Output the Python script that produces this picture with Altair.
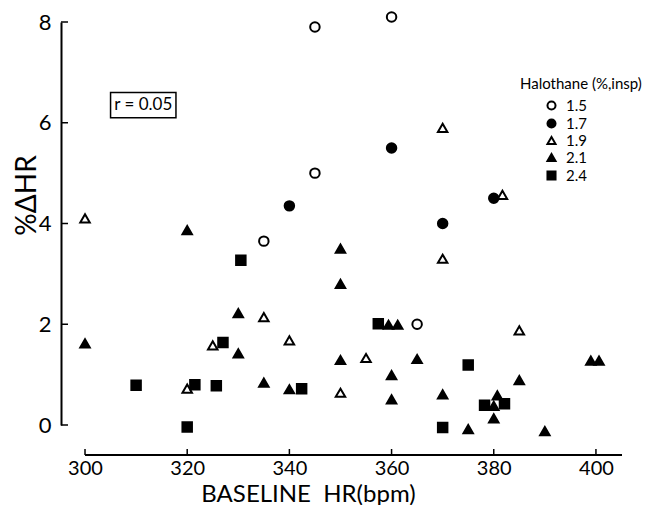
import altair as alt
import pandas as pd

# ---------------- data ----------------
groups = ["1.5", "1.7", "1.9", "2.1", "2.4"]

hr_15 = [345, 360, 345, 335, 365]
pct_15 = [7.9, 8.1, 5.0, 3.65, 2.0]

hr_17 = [340, 360, 370, 380]
pct_17 = [4.35, 5.5, 4.0, 4.5]

hr_19 = [300, 320, 325, 335, 340, 350, 355, 370, 370, 381.7, 385]
pct_19 = [4.1, 0.72, 1.58, 2.14, 1.68, 0.64, 1.33, 5.9, 3.3, 4.57, 1.88]

hr_21 = [300, 320, 330, 330, 335, 340, 350, 350, 350, 359.4, 361.2, 360, 360,
         365, 370, 375, 380, 380.7, 380, 385, 390, 399, 400.6]
pct_21 = [1.62, 3.87, 2.22, 1.42, 0.84, 0.71, 3.5, 2.8, 1.29, 1.99, 1.99, 0.99, 0.51,
          1.31, 0.61, -0.08, 0.38, 0.59, 0.13, 0.89, -0.12, 1.28, 1.28]

hr_24 = [310, 320, 321.5, 325.7, 327, 330.5, 342.4, 357.4, 370, 375, 378.2, 382.1]
pct_24 = [0.79, -0.04, 0.8, 0.78, 1.64, 3.27, 0.72, 2.01, -0.05, 1.19, 0.39, 0.42]

x_ticks = [300, 320, 340, 360, 380, 400]
y_ticks = [0, 2, 4, 6, 8]

r_label = "r = 0.05"
r_box_x = [305.0, 317.8]
r_box_y = [6.1, 6.6]

# ---------------- build table ----------------
rows = []
for g, xs, ys in zip(groups, [hr_15, hr_17, hr_19, hr_21, hr_24],
                     [pct_15, pct_17, pct_19, pct_21, pct_24]):
    for xv, yv in zip(xs, ys):
        rows.append({"hr": xv, "pct": yv, "dose": g})
df = pd.DataFrame(rows)

FONT = "Lato"

xscale = alt.Scale(domain=[295.3, 405.1], nice=False, zero=False)
yscale = alt.Scale(domain=[0, 8], nice=False, zero=False)

legend = alt.Legend(
    title="Halothane (%,insp)", orient="none", legendX=459, legendY=55,
    titleFont=FONT, titleFontSize=15, titleFontWeight="normal", titleColor="black",
    labelFont=FONT, labelFontSize=15, labelColor="black",
    symbolOffset=24, labelOffset=7, rowPadding=1, symbolSize=65,
    symbolStrokeWidth=2, titlePadding=6,
)

points = alt.Chart(df).mark_point(filled=True, strokeWidth=2,
                                  size=90, opacity=1).encode(
    x=alt.X("hr:Q", scale=xscale,
            axis=alt.Axis(title="BASELINE\u00a0 HR(bpm)", values=x_ticks, ticks=False,
                          domain=False, grid=False, offset=29, labelPadding=4,
                          labelFont=FONT, labelFontSize=20, labelColor="black",
                          titleFont=FONT, titleFontSize=24, titleFontWeight="normal",
                          titleColor="black", titleX=247, titlePadding=4)),
    y=alt.Y("pct:Q", scale=yscale,
            axis=alt.Axis(title="%\u0394HR", values=y_ticks, ticks=False, domain=True,
                          domainColor="black", domainWidth=2, grid=False,
                          labelPadding=10, labelFont=FONT, labelFontSize=22,
                          labelColor="black", titleFont=FONT, titleFontSize=28,
                          titleFontWeight="normal", titleColor="black",
                          titleX=-34, titleY=173, titleAlign="center",
                          titleBaseline="middle")),
    shape=alt.Shape("dose:N", scale=alt.Scale(domain=groups,
                    range=["circle", "circle", "triangle-up", "triangle-up", "square"]),
                    legend=legend),
    fill=alt.Fill("dose:N", scale=alt.Scale(domain=groups,
                  range=["white", "black", "white", "black", "black"]),
                  legend=legend),
    stroke=alt.Stroke("dose:N", scale=alt.Scale(domain=groups,
                      range=["black", "black", "black", "black", "black"]),
                      legend=legend),
)

xt = pd.DataFrame({"v": x_ticks})
yt = pd.DataFrame({"v": y_ticks})

x_axis_line = alt.Chart(pd.DataFrame({"a": [x_ticks[0]], "b": [405.1]})).mark_rule(
    color="black", strokeWidth=2).encode(
    x=alt.X("a:Q", scale=xscale), x2="b:Q", y=alt.value(433))

x_tick_marks = alt.Chart(xt).mark_rule(color="black", strokeWidth=1.5).encode(
    x=alt.X("v:Q", scale=xscale), y=alt.value(433), y2=alt.value(427))

y_tick_marks = alt.Chart(yt).mark_rule(color="black", strokeWidth=1.5).encode(
    y=alt.Y("v:Q", scale=yscale), x=alt.value(0), x2=alt.value(7))

box_df = pd.DataFrame({"x1": [r_box_x[0]], "x2": [r_box_x[1]],
                       "y1": [r_box_y[0]], "y2": [r_box_y[1]],
                       "xm": [(r_box_x[0] + r_box_x[1]) / 2],
                       "ym": [(r_box_y[0] + r_box_y[1]) / 2], "t": [r_label]})
box = alt.Chart(box_df).mark_rect(fillOpacity=0, stroke="black", strokeWidth=1.5).encode(
    x=alt.X("x1:Q", scale=xscale), x2="x2:Q", y=alt.Y("y1:Q", scale=yscale), y2="y2:Q")
box_text = alt.Chart(box_df).mark_text(font=FONT, fontSize=17, color="black",
                                       baseline="middle").encode(
    x=alt.X("xm:Q", scale=xscale), y=alt.Y("ym:Q", scale=yscale), text="t:N")

chart = alt.layer(points, x_axis_line, x_tick_marks, y_tick_marks, box, box_text).properties(
    width=561, height=403,
    autosize=alt.AutoSizeParams(type="none"),
    padding={"left": 53, "top": 14, "right": 30, "bottom": 80},
    background="white",
).configure_view(strokeWidth=0)

chart.save("out.html", embed_options={"renderer": "svg", "actions": False})
